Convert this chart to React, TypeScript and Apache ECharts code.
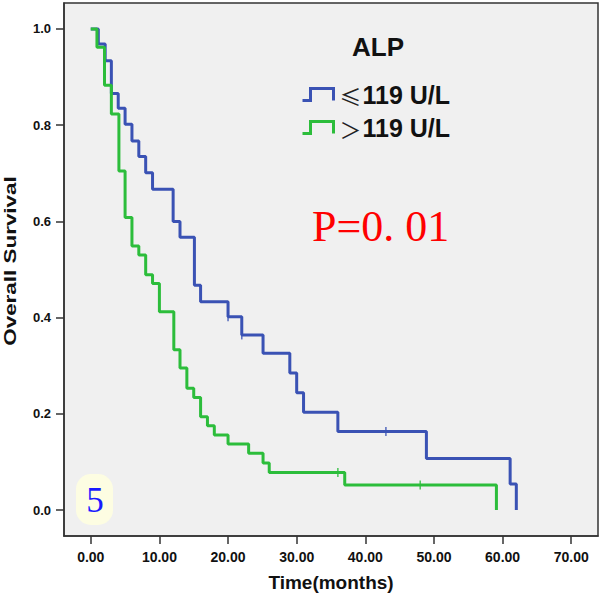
import React, { useEffect, useRef } from "react";
import * as echarts from "echarts";

// Kaplan-Meier curves (time in months, survival after step)
const lowName = "≤119 U/L";
const highName = "＞119 U/L";
const timeLow = [0, 1.1, 2.1, 3.0, 4.0, 5.0, 6.0, 7.0, 8.0, 9.0, 12.0, 13.0, 15.1, 16.0, 20.0, 22.0, 25.1, 29.0, 30.0, 31.0, 36.0, 48.9, 61.1, 62.0];
const survLow = [1.0, 0.969, 0.934, 0.866, 0.835, 0.802, 0.767, 0.735, 0.701, 0.667, 0.6, 0.567, 0.467, 0.433, 0.402, 0.364, 0.326, 0.285, 0.244, 0.203, 0.163, 0.107, 0.054, 0];
const timeHigh = [0, 0.9, 2.0, 3.0, 4.1, 5.0, 6.0, 7.0, 8.0, 9.0, 10.0, 12.1, 13.0, 14.0, 15.0, 16.0, 17.0, 18.0, 20.0, 23.0, 25.1, 26.0, 37.0, 59.1];
const survHigh = [1.0, 0.962, 0.883, 0.823, 0.705, 0.608, 0.549, 0.53, 0.489, 0.471, 0.412, 0.333, 0.295, 0.253, 0.234, 0.194, 0.175, 0.156, 0.137, 0.118, 0.098, 0.078, 0.052, 0];
// censored observations
const censorLowTime = [20.0, 22.0, 43.0];
const censorLowSurv = [0.402, 0.364, 0.163];
const censorHighTime = [36.0, 48.0];
const censorHighSurv = [0.078, 0.052];
// ticks
const xTicks = [0, 10, 20, 30, 40, 50, 60, 70];
const yTicks = [0, 0.2, 0.4, 0.6, 0.8, 1.0];
const xTitle = "Time(months)";
const yTitle = "Overall Survival";
const legendTitle = "ALP";
const pText = "P=0. 01";
const panelLabel = "5";

const BLUE = "#3a52b4";
const GREEN = "#2cbd3b";
const AXIS = "#333333";
const SANS = "'Liberation Sans', Arial, sans-serif";
const SERIF = "'Liberation Serif', 'Times New Roman', serif";
const stepIcon = "path://M0,12 L8,12 L8,0 L31,0 L31,12";

const zip = (a: number[], b: number[]) => a.map((v, i) => [v, b[i]]);

export default function App() {
  const ref = useRef<HTMLDivElement>(null);
  useEffect(() => {
    if (!ref.current) return;
    const chart = echarts.init(ref.current, undefined, { renderer: "svg" });
    const legendText = {
      color: "#111",
      fontFamily: SANS,
      fontWeight: "bold",
      fontSize: 25,
      lineHeight: 24,
      rich: {
        sym: { fontFamily: "'Noto Sans CJK SC'", fontSize: 22, lineHeight: 24, color: "#222", fontWeight: "normal", padding: [0, 1, 0, 1] },
        t: { fontFamily: SANS, fontWeight: "bold", fontSize: 25, lineHeight: 24, color: "#111" },
      },
    };
    const fmt = (name: string) => `{sym|${name.charAt(0)}}{t|${name.slice(1)}}`;
    chart.setOption({
      animation: false,
      backgroundColor: "#ffffff",
      grid: {
        left: 64,
        right: 2,
        top: 3,
        bottom: 62,
        show: true,
        backgroundColor: "#f0f0f0",
        borderColor: AXIS,
        borderWidth: 1.5,
      },
      xAxis: {
        type: "value",
        min: -3.9,
        max: 73.9,
        name: xTitle,
        nameLocation: "middle",
        nameGap: 37,
        nameTextStyle: { fontFamily: SANS, fontWeight: "bold", fontSize: 19, color: "#111" },
        axisLine: { show: true, onZero: false, lineStyle: { color: AXIS, width: 1.5 } },
        axisTick: { show: true, length: 8, customValues: xTicks, lineStyle: { color: AXIS, width: 1.5 } },
        axisLabel: {
          customValues: xTicks,
          formatter: (v: number) => v.toFixed(2),
          margin: 14,
          fontFamily: SANS,
          fontWeight: "bold",
          fontSize: 14,
          color: "#111",
        },
        splitLine: { show: false },
      },
      yAxis: {
        type: "value",
        min: -0.054,
        max: 1.054,
        axisLine: { show: true, onZero: false, lineStyle: { color: AXIS, width: 1.5 } },
        axisTick: { show: true, length: 8, customValues: yTicks, lineStyle: { color: AXIS, width: 1.5 } },
        axisLabel: {
          customValues: yTicks,
          formatter: (v: number) => v.toFixed(1),
          margin: 13,
          fontFamily: SANS,
          fontWeight: "bold",
          fontSize: 13,
          color: "#111",
        },
        splitLine: { show: false },
      },
      legend: [
        {
          data: [{ name: lowName, icon: stepIcon }],
          left: 301,
          top: 82,
          padding: 0,
          itemWidth: 31,
          itemHeight: 12,
          itemGap: 6,
          formatter: fmt,
          textStyle: legendText,
          itemStyle: { color: "transparent", borderColor: BLUE, borderWidth: 3 },
          selectedMode: false,
        },
        {
          data: [{ name: highName, icon: stepIcon }],
          left: 301,
          top: 115,
          padding: 0,
          itemWidth: 31,
          itemHeight: 12,
          itemGap: 6,
          formatter: fmt,
          textStyle: legendText,
          itemStyle: { color: "transparent", borderColor: GREEN, borderWidth: 3 },
          selectedMode: false,
        },
      ],
      graphic: [
        {
          type: "text",
          x: 10,
          y: 261,
          rotation: Math.PI / 2,
          scaleX: 1.32,
          style: {
            text: yTitle,
            fontFamily: SANS,
            fontWeight: "bold",
            fontSize: 17,
            fill: "#111",
            align: "center",
            verticalAlign: "middle",
          },
        },
        {
          type: "text",
          left: 352,
          top: 34,
          style: { text: legendTitle, fontFamily: SANS, fontWeight: "bold", fontSize: 26, fill: "#111" },
        },
        {
          type: "text",
          left: 312,
          top: 204,
          style: { text: pText, fontFamily: SERIF, fontSize: 44, fill: "#ff0000" },
        },
        {
          type: "rect",
          shape: { x: 76, y: 474, width: 37, height: 51, r: 15 },
          style: { fill: "#fdfde2" },
        },
        {
          type: "text",
          x: 95,
          y: 500,
          style: {
            text: panelLabel,
            fontFamily: SERIF,
            fontSize: 35,
            fill: "#1a1aff",
            align: "center",
            verticalAlign: "middle",
          },
        },
      ],
      series: [
        {
          name: lowName,
          type: "line",
          step: "end",
          data: zip(timeLow, survLow),
          showSymbol: false,
          symbol: "none",
          lineStyle: { color: BLUE, width: 3 },
          itemStyle: { color: BLUE },
          z: 3,
        },
        {
          name: highName,
          type: "line",
          step: "end",
          data: zip(timeHigh, survHigh),
          showSymbol: false,
          symbol: "none",
          lineStyle: { color: GREEN, width: 3 },
          itemStyle: { color: GREEN },
          z: 4,
        },
        {
          name: "censor-low",
          type: "scatter",
          data: zip(censorLowTime, censorLowSurv),
          symbol: "rect",
          symbolSize: [1.6, 9],
          itemStyle: { color: BLUE },
          z: 5,
        },
        {
          name: "censor-high",
          type: "scatter",
          data: zip(censorHighTime, censorHighSurv),
          symbol: "rect",
          symbolSize: [1.6, 9],
          itemStyle: { color: GREEN },
          z: 5,
        },
      ],
    });
    return () => chart.dispose();
  }, []);
  return (
    <div
      ref={ref}
      style={{ position: "fixed", left: 0, top: 0, width: 600, height: 598, background: "#fff" }}
    />
  );
}
